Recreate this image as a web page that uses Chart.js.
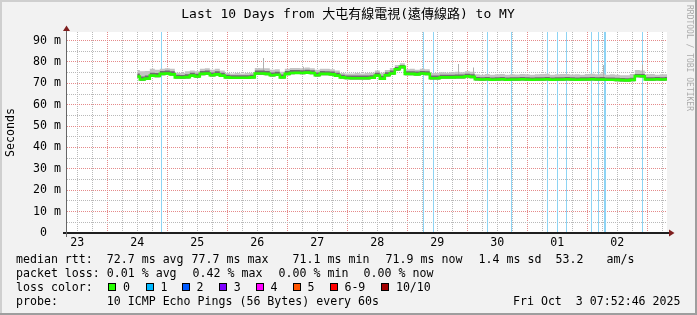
<!DOCTYPE html>
<html>
<head>
<meta charset="utf-8">
<title>SmokePing - Last 10 Days</title>
<script src="https://cdn.jsdelivr.net/npm/chart.js@4.4.0/dist/chart.umd.min.js"></script>
<style>
  html, body { margin: 0; padding: 0; background: #f2f2f2; }
</style>
</head>
<body>
<canvas id="graph" width="697" height="315"></canvas>
<script>
// time axis: hours since Sep 23 00:00, graph ends Fri Oct 3 07:52:46
const startHour = 7.879;
const endHour = 247.879;
const yMax = 94;

// one sample every 2 h, first one Sep 24 12:00
const firstSample = 36;
const sampleStep = 2;

// median rtt in ms
const medianRtt = [
  73.2, 71.8, 72.2, 73.6, 73.4, 74.4, 74.6, 74.2, 72.8, 72.7,
  72.9, 73.6, 73.2, 74.4, 74.6, 73.8, 74.2, 73.6, 72.8, 72.6,
  72.6, 72.6, 72.6, 72.8, 74.6, 74.6, 74.4, 73.8, 74.0, 72.8,
  74.4, 74.8, 74.9, 74.8, 75.0, 74.8, 73.8, 74.4, 74.4, 74.2,
  73.6, 72.8, 72.5, 72.4, 72.4, 72.4, 72.4, 72.6, 73.6, 72.2,
  73.8, 74.6, 76.6, 77.7, 74.4, 74.4, 74.2, 74.6, 74.4, 72.4,
  72.4, 72.8, 72.8, 72.8, 72.9, 72.9, 73.3, 73.0, 71.9, 71.8,
  71.9, 71.7, 71.8, 71.9, 71.7, 71.8, 71.8, 71.9, 71.8, 71.7,
  71.8, 71.8, 71.9, 71.7, 71.8, 71.8, 71.9, 71.8, 71.7, 71.8,
  71.8, 71.9, 71.8, 71.8, 71.7, 71.7, 71.6, 71.5, 71.4, 71.6,
  73.4, 73.3, 71.8, 71.8, 71.9, 71.8, 71.9
];

// smoke: slowest ping, upper quartile, fastest ping (ms)
const smokeHi = [
  76.2, 75.6, 75.8, 76.8, 76.4, 76.8, 77.0, 76.8, 75.0, 74.8,
  75.6, 76.0, 75.6, 76.8, 77.0, 76.4, 76.8, 76.0, 74.8, 74.6,
  74.8, 74.6, 74.8, 75.0, 77.2, 77.0, 77.0, 76.4, 76.6, 75.4,
  76.8, 77.2, 77.2, 77.0, 77.4, 77.0, 76.4, 76.8, 76.8, 76.6,
  76.0, 74.8, 74.6, 74.6, 74.8, 74.6, 74.8, 75.0, 76.0, 75.0,
  76.2, 77.2, 78.6, 79.4, 76.6, 76.8, 76.4, 76.8, 76.6, 74.8,
  74.8, 75.2, 75.0, 75.2, 75.4, 75.2, 75.6, 75.4, 74.2, 74.0,
  74.3, 74.0, 74.2, 74.4, 74.0, 74.2, 74.1, 74.4, 74.2, 74.0,
  74.2, 74.3, 74.5, 74.0, 74.2, 74.4, 74.3, 74.1, 74.2, 74.0,
  74.3, 74.5, 74.2, 74.6, 74.0, 74.2, 74.0, 73.8, 73.8, 74.4,
  76.2, 76.0, 74.2, 74.4, 74.0, 74.2, 74.2
];
const smokeMid = [
  74.6, 73.2, 73.6, 75.0, 74.8, 75.8, 76.0, 75.6, 74.0, 73.9,
  74.2, 74.9, 74.5, 75.8, 76.0, 75.1, 75.6, 74.9, 74.0, 73.8,
  73.8, 73.8, 73.8, 74.0, 76.0, 76.0, 75.8, 75.1, 75.4, 74.1,
  75.8, 76.2, 76.2, 76.1, 76.4, 76.1, 75.1, 75.8, 75.7, 75.5,
  74.9, 74.0, 73.7, 73.6, 73.6, 73.6, 73.6, 73.8, 74.9, 73.5,
  75.2, 76.0, 77.6, 78.6, 75.6, 75.7, 75.5, 75.8, 75.6, 73.6,
  73.6, 74.0, 74.0, 74.0, 74.1, 74.1, 74.5, 74.2, 72.9, 72.8,
  72.9, 72.7, 72.8, 72.9, 72.7, 72.8, 72.8, 72.9, 72.8, 72.7,
  72.8, 72.8, 72.9, 72.7, 72.8, 72.8, 72.9, 72.8, 72.7, 72.8,
  72.8, 72.9, 72.8, 72.9, 72.7, 72.7, 72.6, 72.5, 72.4, 72.6,
  74.4, 74.3, 72.8, 72.8, 72.9, 72.8, 72.9
];
const smokeLo = [
  72.6, 71.2, 71.6, 73.0, 72.8, 73.8, 74.0, 73.6, 72.2, 72.1,
  72.3, 73.0, 72.6, 73.8, 74.0, 73.2, 73.6, 73.0, 72.2, 72.0,
  72.0, 72.0, 72.0, 72.2, 74.0, 74.0, 73.8, 73.2, 73.4, 72.2,
  73.8, 74.2, 74.3, 74.2, 74.4, 74.2, 73.2, 73.8, 73.8, 73.6,
  73.0, 72.2, 71.9, 71.8, 71.8, 71.8, 71.8, 72.0, 73.0, 71.6,
  73.2, 74.0, 75.9, 76.9, 73.8, 73.8, 73.6, 74.0, 73.8, 71.8,
  71.8, 72.2, 72.2, 72.2, 72.3, 72.3, 72.7, 72.4, 71.3, 71.2,
  71.3, 71.1, 71.2, 71.3, 71.1, 71.2, 71.2, 71.3, 71.2, 71.1,
  71.2, 71.2, 71.3, 71.1, 71.2, 71.2, 71.3, 71.2, 71.1, 71.2,
  71.2, 71.3, 71.2, 71.2, 71.1, 71.1, 71.0, 70.9, 70.8, 71.0,
  72.8, 72.7, 71.2, 71.2, 71.3, 71.2, 71.3
];

// single slow pings sticking out of the smoke
const spikeHours = [86.48, 102.48, 164.48, 170.48, 222.48, 238.08];
const spikeLo = [74.6, 75.0, 73.4, 73.4, 72.4, 73.6];
const spikeHi = [81.8, 77.8, 79.0, 77.4, 78.6, 78.8];

// moments with 1/10 packets lost
const lossHours = [45.68, 150.48, 154.48, 176.08, 185.68, 200.08, 204.08, 207.68,
                   217.68, 220.48, 222.88, 223.28, 238.08];

const dayLabels = ['23', '24', '25', '26', '27', '28', '29', '30', '01', '02'];

const titleText = 'Last 10 Days from 大屯有線電視(遠傳線路) to MY';
const rttStats = ['72.7 ms avg', '77.7 ms max', '71.1 ms min', '71.9 ms now', '1.4 ms sd', '53.2', 'am/s'];
const lossStats = ['0.01 % avg', '0.42 % max', '0.00 % min', '0.00 % now'];
const lossLabels = ['0', '1', '2', '3', '4', '5', '6-9', '10/10'];
const lossColors = ['#26ff00', '#00b8ff', '#0059ff', '#7e00ff', '#ff00ff', '#ff5500', '#ff0000', '#a10000'];
const probeText = '10 ICMP Echo Pings (56 Bytes) every 60s';
const stampText = 'Fri Oct  3 07:52:46 2025';

const mono = '"DejaVu Sans Mono", monospace';
const minorGrid = '#b9b9b9';
const majorGrid = '#e58a8a';

const sampleHours = medianRtt.map((_, i) => firstSample + i * sampleStep);
const pts = arr => arr.map((v, i) => ({ x: sampleHours[i], y: v }));

const lineBase = {
  type: 'line', pointRadius: 0, borderWidth: 1, borderColor: 'rgba(0,0,0,0)',
  stepped: 'middle', tension: 0
};

// rrdtool style dotted grid, placed with the chart's own scales
const dotGrid = {
  id: 'dotGrid',
  beforeDatasetsDraw(chart) {
    const { ctx, chartArea: a, scales: { x, y } } = chart;
    ctx.save();
    x.ticks.forEach(t => {
      const px = Math.round(x.getPixelForValue(t.value) - 0.5);
      ctx.fillStyle = t.value % 24 === 0 ? majorGrid : minorGrid;
      for (let py = Math.round(a.top); py < a.bottom; py += 2) ctx.fillRect(px, py, 1, 1);
    });
    y.ticks.forEach(t => {
      if (t.value === 0) return;
      const py = Math.round(y.getPixelForValue(t.value) - 0.5);
      ctx.fillStyle = t.value % 10 === 0 ? majorGrid : minorGrid;
      for (let px = Math.round(a.left); px < a.right; px += 2) ctx.fillRect(px, py, 1, 1);
    });
    ctx.restore();
  }
};

// frame, canvas, axes and all the rrdtool-style text
const rrdLook = {
  id: 'rrdLook',
  beforeDraw(chart) {
    const { ctx, chartArea: a, width: W, height: H } = chart;
    ctx.save();
    ctx.fillStyle = '#f2f2f2';
    ctx.fillRect(0, 0, W, H);
    ctx.fillStyle = '#cfcfcf';
    ctx.fillRect(0, 0, W, 2);
    ctx.fillRect(0, 0, 2, H);
    ctx.fillStyle = '#9e9e9e';
    ctx.fillRect(0, H - 2, W, 2);
    ctx.fillRect(W - 2, 0, 2, H);
    ctx.fillStyle = '#ffffff';
    ctx.fillRect(a.left, a.top, a.right - a.left, a.bottom - a.top);
    ctx.restore();
  },
  afterDraw(chart) {
    const { ctx, chartArea: a } = chart;
    ctx.save();

    // axes
    ctx.fillStyle = '#1f1f1f';
    ctx.fillRect(a.left - 4, a.bottom - 1, a.right - a.left + 6, 2);
    ctx.fillStyle = '#666';
    ctx.fillRect(a.left - 1, a.top - 1, 1, a.bottom - a.top + 5);
    ctx.fillStyle = '#7f1f1f';
    ctx.beginPath();
    ctx.moveTo(a.right + 2, a.bottom - 3.5);
    ctx.lineTo(a.right + 7.5, a.bottom);
    ctx.lineTo(a.right + 2, a.bottom + 3.5);
    ctx.closePath();
    ctx.fill();
    ctx.beginPath();
    ctx.moveTo(a.left - 4, a.top - 1);
    ctx.lineTo(a.left - 0.5, a.top - 6.5);
    ctx.lineTo(a.left + 3, a.top - 1);
    ctx.closePath();
    ctx.fill();

    // title
    ctx.fillStyle = '#000';
    ctx.textBaseline = 'middle';
    ctx.textAlign = 'center';
    ctx.font = '13px "DejaVu Sans Mono", "Noto Sans CJK TC", monospace';
    ctx.fillText(titleText, 348, 15);

    // y axis title
    ctx.font = '11.6px ' + mono;
    ctx.save();
    ctx.translate(11, (a.top + a.bottom) / 2);
    ctx.rotate(-Math.PI / 2);
    ctx.fillText('Seconds', 0, 0);
    ctx.restore();

    // watermark
    ctx.save();
    ctx.fillStyle = '#ababab';
    ctx.font = '8px ' + mono;
    ctx.translate(689, 5);
    ctx.rotate(Math.PI / 2);
    ctx.textAlign = 'left';
    ctx.fillText('RRDTOOL / TOBI OETIKER', 0, 0);
    ctx.restore();

    // legend block
    ctx.textAlign = 'left';
    ctx.fillStyle = '#000';
    const rows = [259.5, 273.5, 287.5, 301.5];
    const col = 106.8;
    ctx.fillText('median rtt:', 16, rows[0]);
    const rttX = [col, 191.6, 292.6, 385.6, 478.6, 555.6, 606.6];
    rttStats.forEach((s, i) => ctx.fillText(s, rttX[i], rows[0]));

    ctx.fillText('packet loss:', 16, rows[1]);
    const lossX = [col, 192.6, 278.6, 363.6];
    lossStats.forEach((s, i) => ctx.fillText(s, lossX[i], rows[1]));

    ctx.fillText('loss color:', 16, rows[2]);
    const boxX = [108, 146, 182, 219, 256, 293, 330, 381];
    const boxLabelX = [123, 160.5, 196.5, 233.7, 270.6, 307.5, 344.4, 395.9];
    lossLabels.forEach((s, i) => {
      ctx.fillStyle = '#000';
      ctx.fillRect(boxX[i], rows[2] - 4.5, 8, 8);
      ctx.fillStyle = lossColors[i];
      ctx.fillRect(boxX[i] + 1, rows[2] - 3.5, 6, 6);
      ctx.fillStyle = '#000';
      ctx.fillText(s, boxLabelX[i], rows[2]);
    });

    ctx.fillText('probe:', 16, rows[3]);
    ctx.fillText(probeText, col, rows[3]);
    ctx.textAlign = 'right';
    ctx.fillText(stampText, 680.5, rows[3]);

    ctx.restore();
  }
};

new Chart(document.getElementById('graph'), {
  type: 'line',
  data: {
    datasets: [
      { ...lineBase, label: 'median rtt', data: pts(medianRtt),
        borderColor: '#26ff00', borderWidth: 2.6, fill: false, order: 1 },
      { ...lineBase, label: 'smoke inner', data: pts(smokeMid),
        backgroundColor: '#6e6e6e', fill: { target: 3 }, order: 3 },
      { ...lineBase, label: 'smoke outer', data: pts(smokeHi),
        backgroundColor: '#c4c4c4', fill: { target: 3 }, order: 5 },
      { ...lineBase, label: 'smoke low', data: pts(smokeLo), fill: false, order: 2 },
      { type: 'bar', label: 'spikes',
        data: spikeHours.map((h, i) => ({ x: h, y: [spikeLo[i], spikeHi[i]] })),
        backgroundColor: '#b0b0b0', barThickness: 1, grouped: false,
        inflateAmount: 0, borderWidth: 0, order: 4 },
      { type: 'bar', label: 'loss',
        data: lossHours.map(h => ({ x: h, y: yMax })),
        backgroundColor: '#8ed4f4', barThickness: 1, grouped: false,
        inflateAmount: 0, borderWidth: 0, order: 6 }
    ]
  },
  options: {
    responsive: false,
    animation: false,
    devicePixelRatio: 1,
    events: [],
    layout: { padding: { left: 0, top: 32, right: 30, bottom: 62 } },
    plugins: {
      legend: { display: false },
      title: { display: false },
      tooltip: { enabled: false }
    },
    scales: {
      x: {
        type: 'linear',
        min: startHour,
        max: endHour,
        offset: false,
        afterBuildTicks: s => {
          const t = [];
          for (let h = 12; h < endHour; h += 6) t.push({ value: h });
          s.ticks = t;
        },
        afterFit: s => { s.height = 20; },
        ticks: {
          autoSkip: false, maxRotation: 0, minRotation: 0, padding: 3,
          color: '#000', font: { family: mono, size: 11.6 },
          callback: v => ((v - 12) % 24 === 0 ? dayLabels[(v - 12) / 24] : '')
        },
        grid: { display: false, drawTicks: false },
        border: { display: false }
      },
      y: {
        min: 0,
        max: yMax,
        afterBuildTicks: s => {
          const t = [];
          for (let v = 0; v <= 90; v += 5) t.push({ value: v });
          s.ticks = t;
        },
        afterFit: s => { s.width = 67; },
        ticks: {
          autoSkip: false, padding: 6, color: '#000',
          font: { family: mono, size: 11.6 },
          callback: v => (v % 10 ? '' : (v === 0 ? '0  ' : v + ' m'))
        },
        grid: { display: false, drawTicks: false },
        border: { display: false }
      }
    }
  },
  plugins: [dotGrid, rrdLook]
});
</script>
</body>
</html>
